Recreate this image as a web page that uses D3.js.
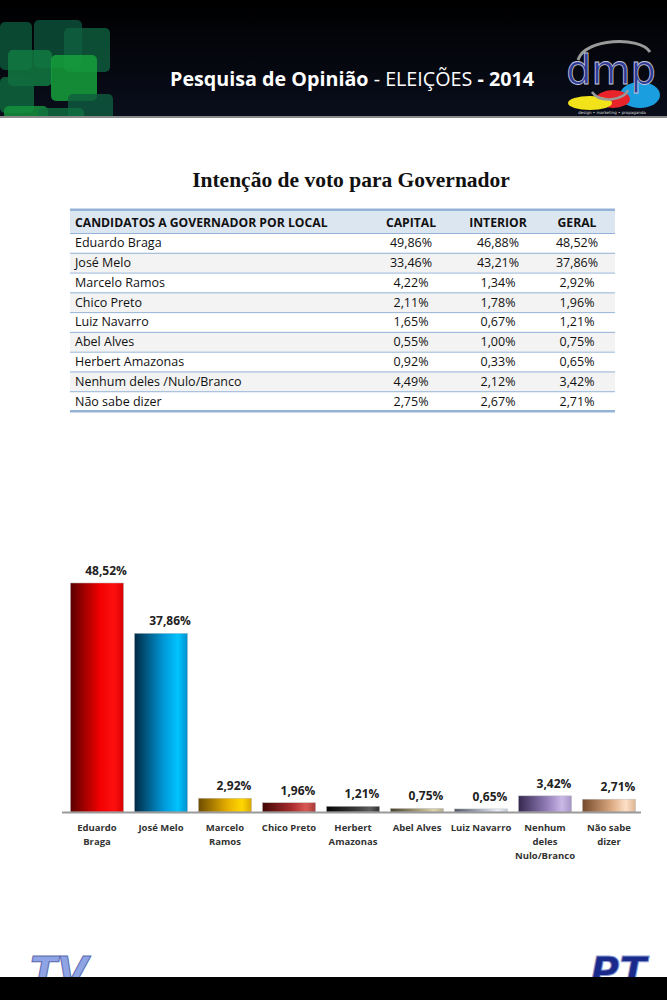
<!DOCTYPE html>
<html lang="pt">
<head>
    <meta charset="UTF-8">
    <title>Intenção de voto para Governador</title>
    <script src="https://d3js.org/d3.v7.min.js"></script>
    <style>
        body { margin: 0; background: #fff; }
        svg { display: block; }
    </style>
</head>
<body>
    <svg width="667" height="1000"></svg>
    <script>
        // Table data
        const tableColumns = ["CANDIDATOS A GOVERNADOR POR LOCAL", "CAPITAL", "INTERIOR", "GERAL"];
        const tableNames = ["Eduardo Braga", "José Melo", "Marcelo Ramos", "Chico Preto", "Luiz Navarro",
            "Abel Alves", "Herbert Amazonas", "Nenhum deles /Nulo/Branco", "Não sabe dizer"];
        const capital = ["49,86%", "33,46%", "4,22%", "2,11%", "1,65%", "0,55%", "0,92%", "4,49%", "2,75%"];
        const interior = ["46,88%", "43,21%", "1,34%", "1,78%", "0,67%", "1,00%", "0,33%", "2,12%", "2,67%"];
        const geral = ["48,52%", "37,86%", "2,92%", "1,96%", "1,21%", "0,75%", "0,65%", "3,42%", "2,71%"];

        // Chart data (order and values as shown in the bar chart)
        const categories = ["Eduardo Braga", "José Melo", "Marcelo Ramos", "Chico Preto", "Herbert Amazonas",
            "Abel Alves", "Luiz Navarro", "Nenhum deles Nulo/Branco", "Não sabe dizer"];
        const categoryLines = [["Eduardo", "Braga"], ["José Melo"], ["Marcelo", "Ramos"], ["Chico Preto"],
            ["Herbert", "Amazonas"], ["Abel Alves"], ["Luiz Navarro"], ["Nenhum", "deles", "Nulo/Branco"], ["Não sabe", "dizer"]];
        const values = [48.52, 37.86, 2.92, 1.96, 1.21, 0.75, 0.65, 3.42, 2.71];

        // bar gradients: dark edge -> light -> highlight -> edge
        const palette = [
            ["#5a0000", "#f00000", "#ff1010", "#d80000"],
            ["#002a44", "#0098d8", "#00c4ff", "#0090cc"],
            ["#6e4c00", "#e8b000", "#ffd800", "#d8a400"],
            ["#420606", "#a82c2c", "#d85a55", "#a83a3a"],
            ["#050505", "#3a3a3a", "#5e5e5e", "#303030"],
            ["#45402a", "#aca47c", "#dcd4ac", "#b4ac8a"],
            ["#4a5262", "#b4bccc", "#eef2fa", "#c0c8d8"],
            ["#35284f", "#9680bc", "#cbb8e6", "#a494c6"],
            ["#74492a", "#dcaa82", "#fde0c6", "#dcb492"]
        ];

        const svg = d3.select("svg");
        const defs = svg.append("defs");

        // ---------- header band ----------
        const hdrGrad = defs.append("linearGradient").attr("id", "hdr").attr("x1", 0).attr("y1", 0).attr("x2", 0).attr("y2", 1);
        hdrGrad.append("stop").attr("offset", "0%").attr("stop-color", "#000");
        hdrGrad.append("stop").attr("offset", "100%").attr("stop-color", "#0a0e1c");
        svg.append("rect").attr("x", 0).attr("y", 0).attr("width", 667).attr("height", 117).attr("fill", "url(#hdr)");

        const squares = [
            [0, 22, 32, 48, "#0e5a3c", 0.8], [34, 20, 48, 48, "#0d5a3e", 0.75], [64, 28, 46, 44, "#0f6040", 0.8],
            [8, 50, 44, 36, "#127a42", 0.85], [51, 55, 46, 46, "#16a03c", 0.85], [0, 77, 34, 36, "#0f6c3e", 0.8],
            [68, 94, 45, 30, "#0f5c40", 0.8], [4, 106, 44, 20, "#15903c", 0.85], [38, 108, 46, 20, "#107040", 0.8]
        ];
        const hdrClip = defs.append("clipPath").attr("id", "hdrclip");
        hdrClip.append("rect").attr("x", 0).attr("y", 0).attr("width", 667).attr("height", 117);
        svg.append("g").attr("clip-path", "url(#hdrclip)")
            .selectAll("rect").data(squares).enter().append("rect")
            .attr("x", d => d[0]).attr("y", d => d[1]).attr("width", d => d[2]).attr("height", d => d[3])
            .attr("rx", 5).attr("fill", d => d[4]).attr("opacity", d => d[5]);
        svg.append("rect").attr("x", 0).attr("y", 116).attr("width", 667).attr("height", 2).attr("fill", "#8a8a8a");

        const hdrText = svg.append("text").attr("x", 170).attr("y", 86)
            .attr("font-family", "Open Sans, sans-serif").attr("font-size", 20).attr("fill", "#fff")
            .attr("textLength", 364).attr("lengthAdjust", "spacingAndGlyphs");
        hdrText.append("tspan").attr("font-weight", "bold").text("Pesquisa de Opinião");
        hdrText.append("tspan").text(" - ELEIÇÕES ");
        hdrText.append("tspan").attr("font-weight", "bold").text("- 2014");

        // dmp logo
        const logo = svg.append("g");
        logo.append("ellipse").attr("cx", 640).attr("cy", 95).attr("rx", 20).attr("ry", 13).attr("fill", "#1a9ee0");
        logo.append("ellipse").attr("cx", 613).attr("cy", 99).attr("rx", 17).attr("ry", 9).attr("fill", "#e8242a");
        logo.append("ellipse").attr("cx", 590).attr("cy", 103).attr("rx", 22).attr("ry", 7).attr("fill", "#f2e21a");
        logo.append("path").attr("d", "M578,60 C585,38 640,36 650,52").attr("fill", "none").attr("stroke", "#9a9a9a").attr("stroke-width", 3);
        logo.append("path").attr("d", "M592,92 C600,104 625,100 628,90").attr("fill", "none").attr("stroke", "#9a9a9a").attr("stroke-width", 2.5);
        logo.append("text").attr("x", 611).attr("y", 84).attr("text-anchor", "middle")
            .attr("font-family", "DejaVu Sans, sans-serif").attr("font-size", 40).attr("fill", "#2e3a96")
            .attr("stroke", "#c8c8d8").attr("stroke-width", 0.8).text("dmp");
        logo.append("text").attr("x", 612).attr("y", 114).attr("text-anchor", "middle")
            .attr("font-family", "DejaVu Sans, sans-serif").attr("font-size", 4).attr("fill", "#ddd")
            .text("design • marketing • propaganda");

        // ---------- title ----------
        svg.append("text").attr("x", 351).attr("y", 187).attr("text-anchor", "middle")
            .attr("font-family", "Liberation Serif, serif").attr("font-weight", "bold").attr("font-size", 21.5)
            .attr("fill", "#111").text("Intenção de voto para Governador");

        // ---------- table ----------
        const tX0 = 70, tX1 = 615;
        const rowY = d3.scaleBand().domain(d3.range(tableNames.length)).range([233, 411]);
        const colX = [75, 411, 498, 577];
        const tableFont = "Open Sans, sans-serif";

        svg.append("rect").attr("x", tX0).attr("y", 210).attr("width", tX1 - tX0).attr("height", 23).attr("fill", "#dce6f1");
        svg.append("rect").attr("x", tX0).attr("y", 208.5).attr("width", tX1 - tX0).attr("height", 2.5).attr("fill", "#95b3d7");

        const rows = svg.append("g").selectAll("g").data(tableNames).enter().append("g")
            .attr("transform", (d, i) => `translate(0,${rowY(i)})`);
        rows.append("rect").attr("x", tX0).attr("y", 0).attr("width", tX1 - tX0).attr("height", rowY.bandwidth())
            .attr("fill", (d, i) => i % 2 ? "#f3f3f3" : "#fff");
        rows.append("line").attr("x1", tX0).attr("x2", tX1).attr("y1", 0.5).attr("y2", 0.5)
            .attr("stroke", "#95b3d7").attr("stroke-width", 1);

        const cellText = (sel, x, anchor, fn) => sel.append("text").attr("x", x).attr("y", rowY.bandwidth() / 2 + 4.5)
            .attr("text-anchor", anchor).attr("font-family", tableFont).attr("font-size", 12.5).attr("fill", "#111").text(fn);
        cellText(rows, colX[0], "start", d => d);
        cellText(rows, colX[1], "middle", (d, i) => capital[i]);
        cellText(rows, colX[2], "middle", (d, i) => interior[i]);
        cellText(rows, colX[3], "middle", (d, i) => geral[i]);

        svg.append("g").selectAll("text").data(tableColumns).enter().append("text")
            .attr("x", (d, i) => colX[i]).attr("y", 226.5)
            .attr("text-anchor", (d, i) => i ? "middle" : "start")
            .attr("font-family", tableFont).attr("font-weight", "bold").attr("font-size", 12.2).attr("fill", "#111")
            .text(d => d);
        svg.append("rect").attr("x", tX0).attr("y", 410).attr("width", tX1 - tX0).attr("height", 2.5).attr("fill", "#95b3d7");

        // ---------- bar chart ----------
        const x = d3.scaleBand().domain(categories).range([65, 641]).paddingInner(0.17).paddingOuter(0.085);
        const y = d3.scaleLinear().domain([0, 50]).range([812, 576]);

        categories.forEach((c, i) => {
            const g = defs.append("linearGradient").attr("id", "bar" + i).attr("x1", 0).attr("y1", 0).attr("x2", 1).attr("y2", 0);
            [0, 0.55, 0.82, 1].forEach((o, k) => g.append("stop").attr("offset", o).attr("stop-color", palette[i][k]));
        });

        svg.append("g").selectAll("rect").data(values).enter().append("rect")
            .attr("x", (d, i) => x(categories[i]))
            .attr("y", d => y(d))
            .attr("width", x.bandwidth())
            .attr("height", d => y(0) - y(d))
            .attr("fill", (d, i) => `url(#bar${i})`)
            .attr("stroke", "#bbb").attr("stroke-width", 0.5);

        svg.append("line").attr("x1", 62).attr("x2", 641).attr("y1", y(0) + 0.5).attr("y2", y(0) + 0.5)
            .attr("stroke", "#9a9a9a").attr("stroke-width", 2);

        svg.append("g").selectAll("text").data(values).enter().append("text")
            .attr("x", (d, i) => x(categories[i]) + x.bandwidth() / 2 + 9)
            .attr("y", d => y(d) - 8)
            .attr("text-anchor", "middle")
            .attr("font-family", "Open Sans, sans-serif").attr("font-weight", "bold").attr("font-size", 12)
            .attr("fill", "#222")
            .text(d => d.toFixed(2).replace(".", ",") + "%");

        const catG = svg.append("g").selectAll("text").data(categories).enter().append("text")
            .attr("x", d => x(d) + x.bandwidth() / 2)
            .attr("y", 831)
            .attr("text-anchor", "middle")
            .attr("font-family", "Open Sans, sans-serif").attr("font-weight", "bold").attr("font-size", 9.5)
            .attr("fill", "#333");
        catG.selectAll("tspan").data((d, i) => categoryLines[i]).enter().append("tspan")
            .attr("x", function () { return this.parentNode.getAttribute("x"); })
            .attr("dy", (d, k) => k ? 14 : 0)
            .text(d => d);

        // ---------- footer ----------
        svg.append("text").attr("x", 30).attr("y", 986)
            .attr("font-family", "DejaVu Sans, sans-serif").attr("font-weight", "bold").attr("font-style", "italic")
            .attr("font-size", 40).attr("fill", "#8fa4e4").attr("stroke", "#5a6ab0").attr("stroke-width", 1)
            .text("TV");
        svg.append("text").attr("x", 590).attr("y", 986)
            .attr("font-family", "DejaVu Sans, sans-serif").attr("font-weight", "bold").attr("font-style", "italic")
            .attr("font-size", 40).attr("fill", "#1a2a8a").attr("stroke", "#8a9ad0").attr("stroke-width", 1)
            .text("PT");
        svg.append("rect").attr("x", 0).attr("y", 977).attr("width", 667).attr("height", 23).attr("fill", "#000");
    </script>
</body>
</html>
